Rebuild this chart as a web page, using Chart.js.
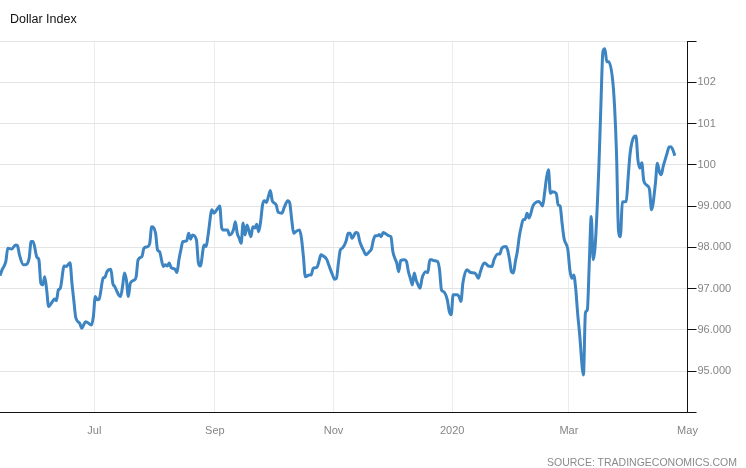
<!DOCTYPE html>
<html>
<head>
<meta charset="utf-8">
<script src="https://cdn.jsdelivr.net/npm/chart.js@4"></script>
<style>
  html, body { margin: 0; padding: 0; background: #fff; }
  #wrap { position: relative; width: 746px; height: 468px; }
  #title { position: absolute; left: 10px; top: 12px; font: 12.5px "Liberation Sans", Arial, sans-serif; color: #111; }
  #source { position: absolute; right: 9px; top: 456px; font: 10.5px "Liberation Sans", Arial, sans-serif; color: #8a8a8a; }
</style>
</head>
<body>
<div id="wrap">
  <canvas id="chart" width="746" height="468"></canvas>
  <div id="title">Dollar Index</div>
  <div id="source">SOURCE: TRADINGECONOMICS.COM</div>
</div>
<script>
// x values are days after 13 May 2019 (noon)
const startDate = Date.UTC(2019, 4, 13, 12);
const endDate = '2020-05-01';

const days = [
  0, 1, 3, 4, 6, 8, 9, 10, 12, 13, 15, 16, 17, 19, 20, 21, 22, 23, 24, 25,
  27, 28, 29, 30, 31, 33, 34, 36, 37, 38, 39, 41, 42, 43, 44, 45, 47, 48, 49, 50,
  51, 53, 54, 55, 57, 58, 59, 61, 62, 63, 64, 65, 66, 67, 69, 70, 71, 73, 74, 76,
  77, 78, 80, 81, 82, 84, 85, 86, 87, 88, 90, 91, 92, 93, 94, 96, 97, 98, 99, 101,
  102, 103, 105, 106, 107, 109, 110, 112, 113, 114, 115, 117, 118, 120, 121, 122, 123, 124, 125, 126,
  127, 129, 130, 131, 132, 133, 134, 135, 136, 137, 138, 139, 140, 142, 143, 145, 146, 148, 149, 150,
  151, 152, 154, 155, 156, 157, 159, 160, 161, 163, 164, 165, 166, 168, 169, 171, 172, 173, 174, 175,
  176, 178, 179, 180, 181, 183, 184, 185, 186, 187, 188, 190, 191, 192, 193, 194, 195, 196, 197, 198,
  200, 201, 202, 203, 204, 205, 206, 208, 209, 210, 211, 212, 213, 214, 215, 216, 217, 219, 220, 221,
  222, 223, 225, 226, 227, 228, 230, 231, 232, 233, 235, 236, 237, 238, 240, 242, 244, 245, 246, 247,
  249, 250, 251, 253, 254, 256, 257, 258, 260, 261, 262, 263, 264, 265, 266, 267, 268, 269, 270, 271,
  272, 274, 275, 277, 278, 279, 280, 281, 282, 283, 284, 286, 287, 288, 289, 290, 292, 293, 294, 295,
  296, 297, 298, 300, 301, 302, 303, 304, 305, 306, 308, 309, 310, 311, 312, 313, 315, 316, 317, 318,
  319, 320, 322, 323, 324, 326, 327, 328, 329, 330, 331, 333, 334, 335, 337, 338, 339, 340, 341, 343,
  344, 345, 346, 347
];

const dollarIndex = [
  97.31, 97.45, 97.66, 97.98, 97.96, 98.06, 98.04, 97.82, 97.58, 97.58, 97.74, 98.14, 98.14, 97.76, 97.70, 97.13, 97.09, 97.29, 96.97, 96.57,
  96.69, 96.75, 96.71, 96.97, 97.01, 97.55, 97.54, 97.63, 97.13, 96.69, 96.29, 96.16, 96.04, 96.12, 96.20, 96.18, 96.12, 96.32, 96.81, 96.73,
  96.75, 97.25, 97.28, 97.41, 97.47, 97.13, 97.05, 96.85, 96.81, 97.05, 97.38, 97.21, 96.81, 97.13, 97.21, 97.29, 97.70, 97.78, 97.98, 98.02,
  98.10, 98.50, 98.34, 97.94, 97.90, 97.54, 97.58, 97.55, 97.62, 97.51, 97.47, 97.39, 97.70, 97.94, 98.14, 98.16, 98.34, 98.20, 98.30, 98.18,
  97.63, 97.55, 98.06, 98.02, 98.30, 98.91, 98.83, 98.95, 99.00, 98.47, 98.42, 98.42, 98.30, 98.42, 98.62, 98.34, 98.22, 98.10, 98.59, 98.30,
  98.54, 98.26, 98.50, 98.47, 98.56, 98.38, 98.62, 99.03, 99.13, 99.09, 99.23, 99.38, 99.13, 99.03, 98.85, 98.83, 98.95, 99.13, 99.07, 98.67,
  98.34, 98.38, 98.42, 98.22, 97.78, 97.29, 97.33, 97.33, 97.49, 97.52, 97.66, 97.82, 97.80, 97.71, 97.58, 97.33, 97.23, 97.25, 97.62, 97.94,
  97.98, 98.16, 98.34, 98.34, 98.22, 98.36, 98.34, 98.14, 98.02, 97.92, 97.82, 97.90, 97.96, 98.18, 98.28, 98.28, 98.31, 98.26, 98.36, 98.34,
  98.28, 98.26, 97.90, 97.74, 97.62, 97.41, 97.68, 97.70, 97.66, 97.41, 97.25, 97.09, 97.38, 97.20, 97.09, 97.01, 97.25, 97.41, 97.39, 97.70,
  97.70, 97.68, 97.66, 97.46, 96.97, 96.93, 96.73, 96.45, 96.37, 96.85, 96.85, 96.81, 96.69, 97.13, 97.46, 97.39, 97.38, 97.33, 97.25, 97.41,
  97.62, 97.60, 97.55, 97.54, 97.70, 97.84, 97.84, 97.98, 98.02, 97.94, 97.70, 97.41, 97.38, 97.66, 97.90, 98.26, 98.50, 98.67, 98.68, 98.83,
  98.71, 99.00, 99.07, 99.11, 99.07, 99.00, 99.31, 99.68, 99.88, 99.31, 99.35, 99.31, 99.03, 99.00, 98.59, 98.22, 97.94, 97.46, 97.25, 97.33,
  97.01, 96.41, 95.92, 94.91, 96.41, 96.49, 97.62, 98.75, 97.70, 98.02, 100.04, 101.49, 102.74, 102.81, 102.50, 102.50, 102.06, 101.41, 100.28, 98.42,
  98.26, 99.10, 99.11, 99.71, 100.28, 100.68, 100.70, 100.12, 99.92, 100.05, 99.62, 99.49, 99.39, 98.91, 99.55, 100.04, 99.84, 99.76, 99.96, 100.28,
  100.43, 100.44, 100.36, 100.22
];

const tickDates = ['2019-07-01', '2019-09-01', '2019-11-01', '2020-01-01', '2020-03-01', '2020-05-01'];
const tickLabels = ['Jul', 'Sep', 'Nov', '2020', 'Mar', 'May'];

const yTicks = [94, 95, 96, 97, 98, 99, 100, 101, 102, 103];
const yTickLabels = ['', '95.000', '96.000', '97.000', '98.000', '99.000', '100', '101', '102', ''];

function dayOf(s) {
  return (Date.parse(s + 'T00:00:00Z') - startDate) / 864e5;
}

const points = days.map((d, i) => ({ x: d, y: dollarIndex[i] }));
const font = { family: '"Liberation Sans", Arial, sans-serif', size: 11 };

new Chart(document.getElementById('chart'), {
  type: 'line',
  data: {
    datasets: [{
      label: 'Dollar Index',
      data: points,
      borderColor: '#3d84c2',
      borderWidth: 3,
      pointRadius: 0,
      cubicInterpolationMode: 'monotone',
      fill: false
    }]
  },
  options: {
    responsive: false,
    animation: false,
    devicePixelRatio: 1,
    layout: { padding: { top: 41, left: 0, right: 0, bottom: 0 } },
    plugins: { legend: { display: false }, tooltip: { enabled: false }, title: { display: false } },
    scales: {
      x: {
        type: 'linear',
        min: 0,
        max: dayOf(endDate),
        afterBuildTicks: (scale) => { scale.ticks = tickDates.map((s) => ({ value: dayOf(s) })); },
        afterFit: (scale) => { scale.height = 55.5; },
        ticks: {
          autoSkip: false,
          maxRotation: 0,
          padding: 12,
          color: '#858585',
          font,
          callback: (v, i) => tickLabels[i]
        },
        grid: { color: '#ececec', drawTicks: false },
        border: { display: true, color: '#111', width: 1 }
      },
      y: {
        position: 'right',
        min: 94,
        max: 103,
        afterBuildTicks: (scale) => { scale.ticks = yTicks.map((v) => ({ value: v })); },
        afterFit: (scale) => { scale.width = 58.5; },
        ticks: {
          padding: 1,
          color: '#858585',
          font,
          callback: (v, i) => yTickLabels[i]
        },
        grid: { color: '#e4e4e4', tickColor: '#111', tickLength: 9 },
        border: { display: true, color: '#111', width: 1 }
      }
    }
  }
});
</script>
</body>
</html>
